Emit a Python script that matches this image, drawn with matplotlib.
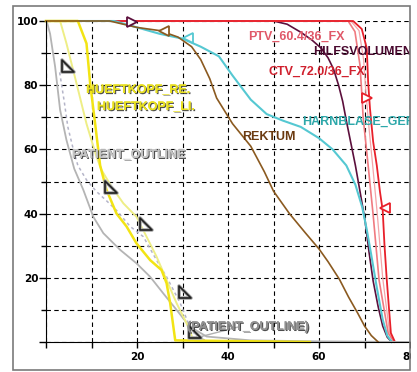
"""
Dose-volume histogram recreated from a planning system screenshot.
Volume (%) against dose (Gy) for target volumes and organs at risk.
"""

import numpy as np
import matplotlib
matplotlib.use('Agg')
import matplotlib.pyplot as plt
import matplotlib.patheffects as pe
from matplotlib.path import Path
from matplotlib.patches import Rectangle

# ---- curve data (dose in Gy, volume in %) ----

ctv_dose = [0, 67.5, 69.4, 70.5, 70.8, 71.2, 71.9, 72.7, 73.4, 74.0, 74.4, 74.9, 75.8, 76.7]
ctv_vol = [100, 100, 97.5, 91.5, 81, 72.8, 62.4, 55, 46.8, 41, 30, 19.3, 2.8, 0]

ptv_dose = [0, 66.4, 67.9, 69.0, 69.4, 69.7, 70.8, 71.9, 73.2, 75.2, 76.5]
ptv_vol = [100, 100, 96.7, 86.3, 77.5, 70, 55, 39.6, 19.3, 2.8, 0]

aux_dose = [0, 67.0, 68.8, 69.8, 70.3, 70.9, 71.8, 72.8, 74.0, 75.5, 76.6]
aux_vol = [100, 100, 97, 88, 78, 68, 55, 40, 20, 3, 0]

hilf_dose = [0, 50, 53, 56, 58.5, 60.5, 62, 63.2, 64.3, 65.2, 66, 67, 68, 69,
             70.1, 71, 71.9, 73, 74, 75, 76]
hilf_vol = [100, 100, 99, 96.5, 94, 91.5, 88.5, 85, 80, 75, 69, 62, 55, 47,
            38, 28, 19, 11, 5, 1.5, 0]

blase_dose = [0, 15, 20, 25, 30, 34, 38, 41, 45, 48.5, 52, 56, 60, 63, 66, 68,
              69.5, 70.5, 71.5, 72.7, 74, 75, 76]
blase_vol = [100, 100, 98, 96, 94.5, 92, 89, 83, 75.5, 71, 69, 67, 63.5, 60, 55, 49,
             42, 35, 27, 17, 7, 2, 0]

rektum_dose = [0, 14, 17, 20, 25, 29, 32, 34, 36, 37.5, 41, 45, 48, 50, 53.5, 57,
               60, 62, 64.5, 66.5, 68.5, 70, 71.5, 73]
rektum_vol = [100, 100, 99, 98, 97, 95, 92, 88, 82, 76, 68, 61, 53, 47, 40, 34,
              29, 25, 19.5, 14, 9, 5, 2, 0]

hk_re_dose = [0, 7.0, 8.9, 9.7, 10.8, 11.9, 13.3, 15.5, 17.7, 19.9, 22.9, 25.4,
              26.5, 27.3, 28.4, 58]
hk_re_vol = [100, 100, 93, 80.6, 68, 55, 47.4, 40, 36, 30.7, 25.5, 22.4,
             18.3, 12, 0.5, 0]

hk_li_dose = [0, 3.1, 4.5, 6.7, 8.9, 11.1, 12.2, 14.4, 17, 19.9, 22.1, 24.3,
              26.5, 28.7, 30.9, 32.4, 34]
hk_li_vol = [100, 100, 93, 80.6, 68, 57.7, 53.6, 48.4, 43.2, 39, 32.8, 26.6,
             19.3, 12.1, 5.8, 0.6, 0]

outline_dose = [0, 0.15, 0.9, 2, 3.1, 4.5, 6.2, 8.2, 10.4, 12.6, 16.3, 19.9,
                22.9, 25.8, 28.7, 31.6, 35.3, 45, 60, 80]
outline_vol = [100, 100, 96, 85.8, 72.3, 62.9, 54, 47.4, 39, 33.9, 28.7, 24.5,
               20.3, 15.1, 10, 4.8, 1.7, 0.5, 0.2, 0]

outline2_dose = [3.0, 4.0, 4.8, 6.0, 7.0, 8.9, 11, 13.3, 15.5, 18.5, 21.4, 24.3,
                 26.5, 29.5, 31.6, 33.1, 36]
outline2_vol = [84, 75, 67, 60, 55, 50.5, 47, 44, 41, 36, 32.8, 25.5,
                20.3, 12.1, 4.8, 1.7, 0]

# label anchors (dose, volume) and texts
labels = ['PTV_60.4/36_FX', 'HILFSVOLUMEN', 'CTV_72.0/36_FX', 'HARNBLASE_GEF',
          'REKTUM', 'HUEFTKOPF_RE.', 'HUEFTKOPF_LI.', 'PATIENT_OUTLINE',
          '(PATIENT_OUTLINE)']
label_x = [44.4, 58.7, 48.8, 56.3, 43.1, 8.8, 11.2, 5.7, 31.0]
label_y = [95.0, 90.3, 84.1, 68.5, 63.9, 78.5, 73.2, 58.3, 4.7]

# DVH point markers
tri_x = [4.8, 14.3, 22.0, 30.5, 32.7]
tri_y = [86.0, 48.3, 36.8, 15.6, 3.1]

open_tri_x = [18.9, 25.9, 31.2, 70.5, 74.5]
open_tri_y = [99.7, 96.9, 94.7, 76.0, 41.7]

# ---- styling ----

red = '#e8202a'
pink = '#f07a80'
maroon = '#5c0f3c'
cyan = '#55c8d2'
brown = '#8b5a20'
yellow = '#f2e414'
paleyellow = '#eeee86'
gray = '#b4b4b4'

label_colors = ['#e05868', '#4a0a30', '#d0202e', '#2ea8aa', '#6b3a10',
                '#e8e020', '#e8e020', '#c4c4c4', '#909090']
open_tri_styles = [('>', maroon), ('<', brown), ('<', cyan), ('>', red), ('<', red)]

font = ['Liberation Sans', 'DejaVu Sans']

fig = plt.figure(figsize=(4.17, 3.72), dpi=100)
ax = fig.add_axes([46/417, 30/372, 364/417, 321/372])

ax.set_xlim(0, 80)
ax.set_ylim(0, 100)

ax.set_xticks([0, 20, 40, 60, 80], ['', '20', '40', '60', '80'])
ax.set_xticks(np.arange(0, 81, 10), minor=True)
ax.set_yticks([0, 20, 40, 60, 80, 100], ['', '20', '40', '60', '80', '100'])
ax.set_yticks(np.arange(0, 101, 10), minor=True)

ax.tick_params(axis='x', which='both', direction='out', length=4, width=1, pad=3,
               labelsize=7.5)
ax.tick_params(axis='y', which='major', direction='out', length=5, width=1, pad=0.5,
               labelsize=7.5)
ax.tick_params(axis='y', which='minor', direction='out', length=3.5, width=1)
for lbl in ax.get_xticklabels() + ax.get_yticklabels():
    lbl.set_fontweight('bold')

ax.spines['top'].set_visible(False)
ax.spines['right'].set_visible(False)

ax.set_axisbelow(True)
ax.grid(which='both', color='black', linestyle=(0, (4, 3)), linewidth=0.8)

# ---- curves, bottom to top ----

ax.plot(hilf_dose, hilf_vol, color=maroon, lw=1.2, clip_on=False)
ax.plot(aux_dose, aux_vol, color='#f4a4a8', lw=0.9, clip_on=False)
ax.plot(ptv_dose, ptv_vol, color=pink, lw=1.2, clip_on=False)
ax.plot(ctv_dose, ctv_vol, color=red, lw=1.3, clip_on=False)
ax.plot(blase_dose, blase_vol, color=cyan, lw=1.5, clip_on=False)
ax.plot(outline_dose, outline_vol, color=gray, lw=1.3, clip_on=False)
ax.plot(outline2_dose, outline2_vol, color='#b4b4c8', lw=1.1, ls=(0, (2, 2)))
ax.plot(hk_li_dose, hk_li_vol, color=paleyellow, lw=1.4, clip_on=False)
ax.plot(hk_re_dose, hk_re_vol, color=yellow, lw=1.8, clip_on=False)
ax.plot(rektum_dose, rektum_vol, color=brown, lw=1.2, clip_on=False)

# leader line for the second outline label
ax.plot([33.8, 42.6], [1.6, 4.8], color='#b0b0b0', lw=1.0)

# open right-angle triangles (black with grey shadow)
corner = Path([(-1, 1), (-1, -1), (1, -1), (-1, 1)],
              [Path.MOVETO, Path.LINETO, Path.LINETO, Path.CLOSEPOLY])
ax.plot(tri_x, tri_y, ls='none', marker=corner, markersize=8.5, mfc='none',
        mec='#a8a8a8', mew=2.6, zorder=4)
ax.plot(tri_x, tri_y, ls='none', marker=corner, markersize=8.5, mfc='none',
        mec='#202020', mew=1.2, zorder=5)

for (m, c), x, y in zip(open_tri_styles, open_tri_x, open_tri_y):
    ax.plot(x, y, ls='none', marker=m, markersize=7, mfc='white', mec=c, mew=1.3,
            zorder=5, clip_on=False)

# ---- labels ----

for i, txt in enumerate(labels):
    effects = None
    if i >= 5:
        effects = [pe.withSimplePatchShadow(offset=(0.8, -0.8),
                                            shadow_rgbFace='#202020', alpha=0.8),
                   pe.Normal()]
    ax.text(label_x[i], label_y[i], txt, color=label_colors[i], fontsize=9,
            fontweight='bold', family=font, va='center', ha='left',
            clip_on=True, zorder=6, path_effects=effects)

# white margin and grey frame of the screenshot
fig.add_artist(Rectangle((411/417, 0), 6/417, 1, transform=fig.transFigure,
                         facecolor='white', edgecolor='none', zorder=10))
fig.add_artist(Rectangle((13/417, 2/372), 397/417, 364/372, transform=fig.transFigure,
                         facecolor='none', edgecolor='#7a7a7a', lw=1.2, zorder=11))

fig.savefig('out.png', dpi=100)
